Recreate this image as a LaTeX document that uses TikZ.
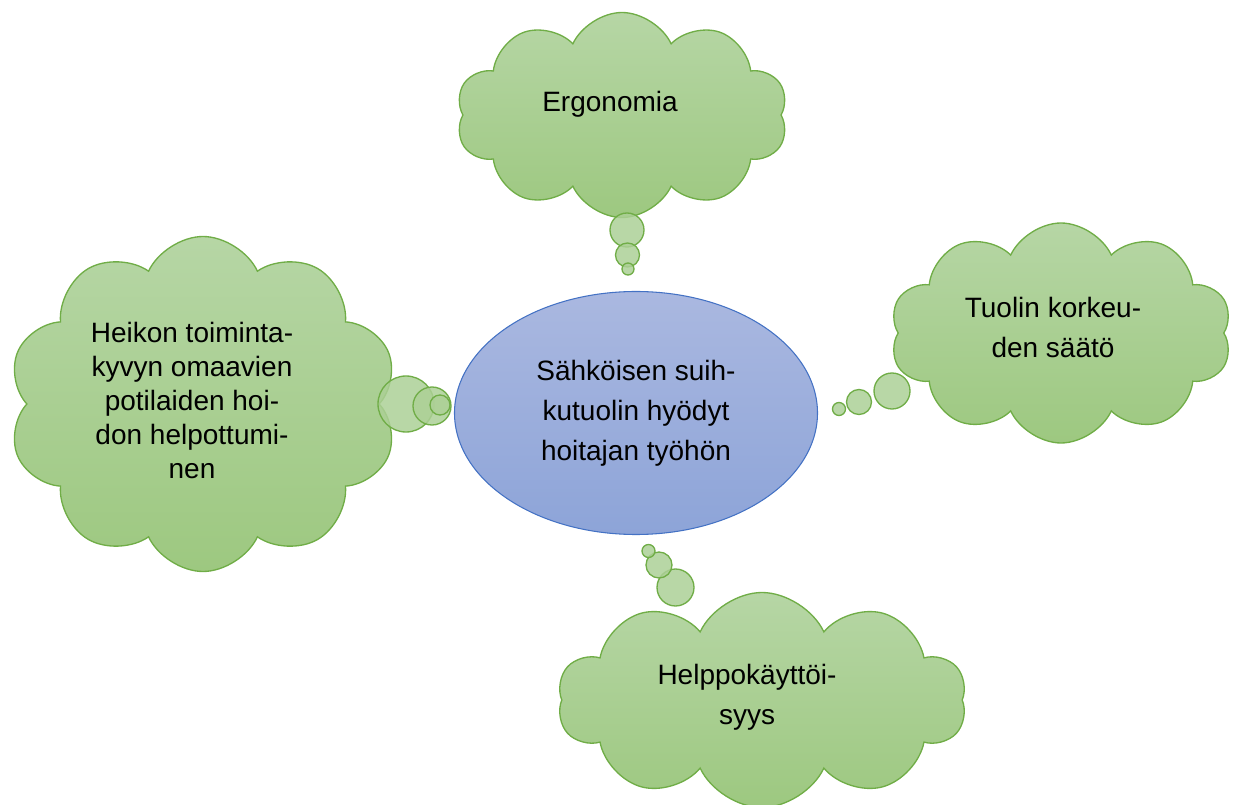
\documentclass[tikz,border=0pt]{standalone}
\usepackage{fontspec}
\setmainfont{Liberation Sans}
\usetikzlibrary{shapes.symbols,shapes.geometric}
\definecolor{cloudedge}{RGB}{112,173,71}
\definecolor{cloudtop}{RGB}{182,214,165}
\definecolor{cloudbot}{RGB}{157,200,128}
\definecolor{bubblefill}{RGB}{172,208,150}
\definecolor{ovaledge}{RGB}{68,114,196}
\definecolor{ovaltop}{RGB}{170,184,224}
\definecolor{ovalbot}{RGB}{141,164,216}
\tikzset{
  cloudbox/.style={cloud, cloud puffs=10, cloud puff arc=130, cloud ignores aspect,
    draw=cloudedge, line width=1pt, top color=cloudtop, bottom color=cloudbot, inner sep=0pt},
  bubble/.style={circle, draw=cloudedge, line width=1pt, fill=bubblefill, fill opacity=0.85,
    inner sep=0pt, minimum size=#1*0.75pt},
  txt/.style={align=center, font=\fontsize{21}{30}\selectfont}
}
\begin{document}
\begin{tikzpicture}[x=0.75pt,y=-0.75pt]
	\useasboundingbox (0,0) rectangle (1233,805);
	\node[ellipse, draw=ovaledge, line width=0.8pt, top color=ovaltop, bottom color=ovalbot,
	  minimum width=363*0.75pt, minimum height=243*0.75pt, inner sep=0pt] (hub) at (636,413) {};
	\node[txt] (hubtxt) at (hub.center) {Sähköisen suih-\\kutuolin hyödyt\\hoitajan työhön};

	\node[cloudbox, minimum width=332*0.75pt, minimum height=205*0.75pt] (ergo) at (622,115) {};
	\node[cloudbox, minimum width=342*0.75pt, minimum height=220*0.75pt] (tuoli) at (1061,333) {};
	\node[cloudbox, minimum width=409*0.75pt, minimum height=215*0.75pt] (helppo) at (762,700) {};
	\node[cloudbox, minimum width=390*0.75pt, minimum height=335*0.75pt] (heikko) at (203,404) {};

	\node[txt] (ergotxt) at ([shift={(-12,-11)}]ergo.center) {Ergonomia};
	\node[txt] (tuolitxt) at ([shift={(-8,-6)}]tuoli.center) {Tuolin korkeu-\\den säätö};
	\node[txt] (helpotxt) at ([shift={(-15,-3)}]helppo.center) {Helppokäyttöi-\\syys};
	\node[txt, font=\fontsize{21}{25.5}\selectfont] (heikkotxt) at ([shift={(-11,-4)}]heikko.center)
	  {Heikon toiminta-\\kyvyn omaavien\\potilaiden hoi-\\don helpottumi-\\nen};

	\foreach \x/\y/\d [count=\i] in {627/230/34, 627.5/255/24, 628/269/12,
	    892/391/36, 859/402/25, 839/409/13,
	    675.5/587.5/37, 659/565/26, 648.5/551/13,
	    406/404/56, 432/406/38, 440/405/20}
	  \node[bubble=\d] (b\i) at (\x,\y) {};
\end{tikzpicture}
\end{document}
